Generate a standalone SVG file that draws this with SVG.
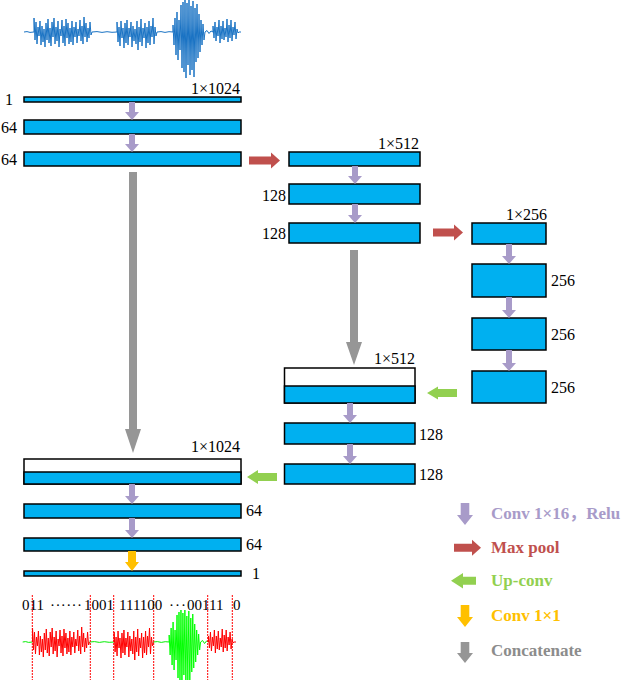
<svg xmlns="http://www.w3.org/2000/svg" xmlns:xlink="http://www.w3.org/1999/xlink" width="626" height="680" viewBox="0 0 626 680">
<style>
.blk{fill:#00b0f0;stroke:#000;stroke-width:1.5}
.wht{fill:#fff;stroke:#000;stroke-width:1.5}
.lbl{font-family:"Liberation Serif",serif;font-size:16px;fill:#000}
.bits{font-family:"Liberation Serif",serif;font-size:15px;fill:#000}
.leg{font-family:"Liberation Serif","Noto Sans CJK SC",serif;font-weight:bold;font-size:17px}
.conv{fill:#a89bc9}
.pool{fill:#c0504d}
.up{fill:#92d050}
.c11{fill:#ffc000}
.cat{fill:#969696}
.wave{fill:none;stroke-width:1;stroke-linejoin:round}
.cut{stroke:#ff0000;stroke-width:1;stroke-dasharray:2 1;fill:none}
</style>
<defs>
<path id="f0" d="M24,32 L27,31.6 30,32.4 34,32"/>
<path id="b1" d="M34,32 L34,18 35,40 36,22 37,44 38,27 39,36 40,21 41,45 42,26 43,42 44,29 45,47 46,23 47,40 48,19 49,43 50,28 51,46 52,22 53,37 54,18 55,44 56,27 57,41 58,21 59,47 60,29 61,36 62,20 63,43 64,26 65,46 66,19 67,38 68,23 69,44 70,28 71,42 72,21 73,45 74,27 75,37 76,22 77,43 78,29 79,36 80,20 81,41 82,26 83,44 84,17 85,37 86,23 87,42 88,28 89,38 90,22 91,35 92,32"/>
<path id="f1" d="M92,32 L97,31.6 102,32.4 107,31.7 112,32.3 117,32"/>
<path id="b2" d="M117,32 L117,22 118,42 119,27 120,46 121,21 122,38 123,28 124,48 125,23 126,43 127,20 128,45 129,28 130,37 131,22 132,47 133,26 134,41 135,29 136,44 137,21 138,50 139,27 140,42 141,19 142,46 143,28 144,38 145,23 146,48 147,27 148,43 149,21 150,45 151,26 152,37 153,18 154,44 155,27 156,36 157,32"/>
<path id="f2" d="M157,32 L161,31.6 165,32.4 169,31.7 173,32"/>
<path id="b3" d="M173,32 L173,25 174,45 175,18 176,55 177,12 178,60 179,20 180,50 181,5 182,68 183,2 184,72 185,0 186,78 187,3 188,65 189,0 190,75 191,6 192,70 193,1 194,77 195,8 196,62 197,4 198,58 199,14 200,52 201,20 202,45 203,24 204,40 205,32"/>
<path id="f3" d="M205,32 L207,30.5 209,33.5 211,31 213,32"/>
<path id="b4" d="M213,32 L213,26 214,38 215,22 216,41 217,27 218,36 219,20 220,43 221,26 222,39 223,21 224,40 225,28 226,37 227,19 228,42 229,25 230,38 231,20 232,41 233,27 234,35 235,22 236,39 237,29 238,33 239,32 241,32"/>
</defs>

<g id="input-wave" class="wave" stroke="#1a73c4">
<use xlink:href="#f0"/><use xlink:href="#b1"/><use xlink:href="#f1"/><use xlink:href="#b2"/><use xlink:href="#f2"/><use xlink:href="#b3"/><use xlink:href="#f3"/><use xlink:href="#b4"/>
</g>

<g id="output-wave" class="wave" transform="translate(-0.9,610) scale(0.983,1)">
<use xlink:href="#f0" stroke="#00ee00"/><use xlink:href="#b1" stroke="#ff0000"/><use xlink:href="#f1" stroke="#00ee00"/><use xlink:href="#b2" stroke="#ff0000"/><use xlink:href="#f2" stroke="#00ee00"/><use xlink:href="#b3" stroke="#00ff00"/><use xlink:href="#f3" stroke="#00ee00"/><use xlink:href="#b4" stroke="#ff0000"/>
</g>

<g id="cuts">
<line class="cut" x1="32.3" y1="595" x2="32.3" y2="680"/>
<line class="cut" x1="90.3" y1="595" x2="90.3" y2="680"/>
<line class="cut" x1="113.7" y1="595" x2="113.7" y2="680"/>
<line class="cut" x1="153.7" y1="595" x2="153.7" y2="680"/>
<line class="cut" x1="207.7" y1="595" x2="207.7" y2="680"/>
<line class="cut" x1="232.3" y1="595" x2="232.3" y2="680"/>
</g>

<g id="bit-labels" class="bits">
<text x="22" y="610">011</text>
<text x="50" y="610" textLength="32" lengthAdjust="spacing">······</text>
<text x="84" y="610">1001</text>
<text x="119" y="610">111100</text>
<text x="169" y="610" textLength="17" lengthAdjust="spacing">···</text>
<text x="187" y="610">00111</text>
<text x="233" y="610">0</text>
</g>

<!-- Encoder level 1 -->
<g id="enc1-in"><rect class="blk" x="24" y="97" width="217" height="5"/><text class="lbl" x="5" y="105">1</text><text class="lbl" x="240" y="94" text-anchor="end">1×1024</text></g>
<g id="enc1-a"><rect class="blk" x="24" y="120" width="217" height="14"/><text class="lbl" x="1" y="133">64</text></g>
<g id="enc1-b"><rect class="blk" x="24" y="152" width="217" height="14"/><text class="lbl" x="1" y="165">64</text></g>

<!-- Encoder level 2 -->
<g id="enc2-in"><rect class="blk" x="289" y="152" width="131" height="14"/><text class="lbl" x="419" y="149" text-anchor="end">1×512</text></g>
<g id="enc2-a"><rect class="blk" x="289" y="184" width="131" height="20"/><text class="lbl" x="286" y="201" text-anchor="end">128</text></g>
<g id="enc2-b"><rect class="blk" x="289" y="223" width="131" height="20"/><text class="lbl" x="286" y="239" text-anchor="end">128</text></g>

<!-- Bottleneck -->
<g id="mid-in"><rect class="blk" x="472" y="223" width="74" height="21"/><text class="lbl" x="547" y="220" text-anchor="end">1×256</text></g>
<g id="mid-a"><rect class="blk" x="472" y="264" width="74" height="33"/><text class="lbl" x="551" y="286">256</text></g>
<g id="mid-b"><rect class="blk" x="472" y="318" width="74" height="32"/><text class="lbl" x="551" y="340">256</text></g>
<g id="mid-c"><rect class="blk" x="472" y="371" width="74" height="32"/><text class="lbl" x="551" y="393">256</text></g>

<!-- Decoder level 2 -->
<g id="dec2-cat"><rect class="wht" x="284.5" y="368" width="130.5" height="35"/><rect class="blk" x="284.5" y="386" width="130.5" height="17"/><text class="lbl" x="415" y="364" text-anchor="end">1×512</text></g>
<g id="dec2-a"><rect class="blk" x="284.5" y="423" width="130.5" height="21"/><text class="lbl" x="419" y="440">128</text></g>
<g id="dec2-b"><rect class="blk" x="284.5" y="464" width="130.5" height="20"/><text class="lbl" x="419" y="480">128</text></g>

<!-- Decoder level 1 -->
<g id="dec1-cat"><rect class="wht" x="24" y="459" width="217" height="25"/><rect class="blk" x="24" y="472" width="217" height="12"/><text class="lbl" x="240" y="452" text-anchor="end">1×1024</text></g>
<g id="dec1-a"><rect class="blk" x="24" y="504" width="217" height="14"/><text class="lbl" x="246" y="516">64</text></g>
<g id="dec1-b"><rect class="blk" x="24" y="538" width="217" height="13"/><text class="lbl" x="246" y="550">64</text></g>
<g id="dec1-out"><rect class="blk" x="24" y="571" width="217" height="5"/><text class="lbl" x="252" y="579">1</text></g>

<g id="connectors">
<polygon class="conv" points="129,102 135,102 135,112 139,112 132,120 125,112 129,112"/>
<polygon class="conv" points="129,134 135,134 135,144 139,144 132,152 125,144 129,144"/>
<polygon class="conv" points="352,166 358,166 358,176 362,176 355,184 348,176 352,176"/>
<polygon class="conv" points="352,204 358,204 358,215 362,215 355,223 348,215 352,215"/>
<polygon class="conv" points="506,244 512,244 512,256 516,256 509,264 502,256 506,256"/>
<polygon class="conv" points="506,297 512,297 512,310 516,310 509,318 502,310 506,310"/>
<polygon class="conv" points="506,350 512,350 512,363 516,363 509,371 502,363 506,363"/>
<polygon class="conv" points="347,403 353,403 353,415 357,415 350,423 343,415 347,415"/>
<polygon class="conv" points="347,444 353,444 353,456 357,456 350,464 343,456 347,456"/>
<polygon class="conv" points="129,484 135,484 135,496 139,496 132,504 125,496 129,496"/>
<polygon class="conv" points="129,518 135,518 135,530 139,530 132,538 125,530 129,530"/>
<polygon class="c11" points="128,551 136,551 136,562 139,562 132,571 125,562 128,562"/>
<polygon class="pool" points="249,156.5 271,156.5 271,152.5 280,160.5 271,168.5 271,164.5 249,164.5"/>
<polygon class="pool" points="433,228.5 454,228.5 454,224.5 463,232.5 454,240.5 454,236.5 433,236.5"/>
<polygon class="up" points="457,389 438,389 438,386.5 427,393 438,399.5 438,397 457,397"/>
<polygon class="up" points="277,473 258,473 258,470 247,477 258,484 258,481 277,481"/>
<polygon class="cat" points="129,172 137,172 137,429 141,429 133,453 125,429 129,429"/>
<polygon class="cat" points="350,250 358,250 358,342 362,342 354,365 346,342 350,342"/>
</g>

<g id="legend">
<polygon class="conv" points="460.7,503 469.3,503 469.3,515 473,515 465,525 457,515 460.7,515"/>
<text class="leg" x="491" y="519" fill="#a89bc9">Conv 1×16，Relu</text>
<polygon class="pool" points="454,543.7 472,543.7 472,539.7 481,547.7 472,555.7 472,551.7 454,551.7"/>
<text class="leg" x="491" y="553" fill="#c0504d">Max pool</text>
<polygon class="up" points="476,576.7 463,576.7 463,573 451,580.7 463,588.4 463,584.7 476,584.7"/>
<text class="leg" x="491" y="586" fill="#92d050">Up-conv</text>
<polygon class="c11" points="460.7,605 469.3,605 469.3,617 473,617 465,627 457,617 460.7,617"/>
<text class="leg" x="491" y="621" fill="#ffc000">Conv 1×1</text>
<polygon class="cat" points="460.7,642 469.3,642 469.3,653 473,653 465,663 457,653 460.7,653"/>
<text class="leg" x="491" y="656" fill="#8c8c8c">Concatenate</text>
</g>
</svg>
